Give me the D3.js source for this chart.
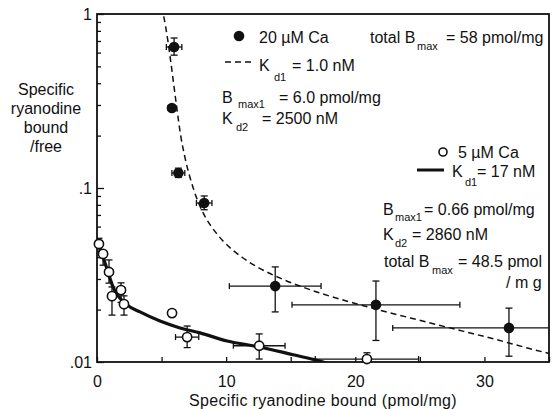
<!DOCTYPE html>
<html><head><meta charset="utf-8">
<script src="https://cdn.jsdelivr.net/npm/d3@7"></script>
<style>
body{margin:0;background:#fff}
text{font-family:"Liberation Sans",Arial,Helvetica,sans-serif;fill:#111}
</style>
</head><body><svg id="c" width="559" height="409"></svg>
<script>
// ---- data ----
const xTickValues = [0, 5, 10, 15, 20, 25, 30, 35];
const xTickLabels = ["0", "", "10", "", "20", "", "30", ""];
const yMajorTicks = [0.01, 0.1, 1];
const yMajorLabels = [".01", ".1", "1"];
const yMinorTicks = [0.02,0.03,0.04,0.05,0.06,0.07,0.08,0.09,0.2,0.3,0.4,0.5,0.6,0.7,0.8,0.9];

// 20 µM Ca (filled)
const ca20X     = [5.97, 5.8, 6.3, 8.3, 13.8, 21.6, 31.9];
const ca20Y     = [0.646, 0.288, 0.122, 0.082, 0.0273, 0.0213, 0.0157];
const ca20XErr  = [0.6, 0.3, 0.5, 0.6, 3.55, 6.5, 9.0];
const ca20YLow  = [0.58, 0.288, 0.115, 0.075, 0.0194, 0.0133, 0.0108];
const ca20YHigh = [0.728, 0.288, 0.13, 0.09, 0.0352, 0.0292, 0.0204];

// 5 µM Ca (open)
const ca5X     = [0.15, 0.47, 0.93, 1.86, 1.16, 2.09, 5.81, 6.98, 12.56, 20.9];
const ca5Y     = [0.0477, 0.0418, 0.0329, 0.0259, 0.0239, 0.0215, 0.0191, 0.0139, 0.0124, 0.0104];
const ca5XErr  = [0.2, 0, 0.3, 0.3, 0, 0, 0, 0.9, 2.0, 4.0];
const ca5YLow  = [0.043, 0.036, 0.0284, 0.022, 0.0186, 0.0186, 0.0191, 0.0121, 0.0104, 0.0095];
const ca5YHigh = [0.0514, 0.0418, 0.0386, 0.0285, 0.027, 0.024, 0.0191, 0.0161, 0.0145, 0.0113];

// fitted curves
const fit20X = [5.0, 5.13, 5.49, 5.76, 6.15, 6.48, 6.81, 7.45, 8.30, 8.86, 9.72, 11.23, 12.46, 14.34, 17.2, 19.24, 21.75, 24.8, 28.4, 30.85, 33.4, 35.0];
const fit20Y = [1.1, 1.0, 0.7, 0.5, 0.3, 0.2, 0.15, 0.1, 0.07, 0.06, 0.05, 0.04, 0.035, 0.03, 0.025, 0.0225, 0.02, 0.0175, 0.015, 0.0135, 0.012, 0.0112];
const fit5X = [0, 0.15, 0.7, 1.24, 2.33, 3.33, 4.88, 6.43, 7.98, 10.08, 12.6, 15.2, 17.3, 18.5];
const fit5Y = [0.05, 0.047, 0.0356, 0.027, 0.0213, 0.0194, 0.0172, 0.0157, 0.0147, 0.0132, 0.0122, 0.011, 0.0101, 0.0095];

const xTitle = "Specific ryanodine bound (pmol/mg)";
const yTitle = ["Specific", "ryanodine", "bound", "/free"];

// ---- drawing ----
const svg = d3.select("#c");
const L = 97, R = 549, T = 14, B = 362;
const x = d3.scaleLinear().domain([0, 35]).range([L, R]);
const y = d3.scaleLog().domain([0.01, 1]).range([B, T]);

svg.append("defs").append("clipPath").attr("id", "clip")
  .append("rect").attr("x", L).attr("y", T).attr("width", R - L).attr("height", B - T);

// axes
const gx = svg.append("g").attr("transform", `translate(0,${B})`)
  .call(d3.axisBottom(x).tickValues(xTickValues).tickSizeInner(-5).tickSizeOuter(0)
    .tickFormat((d, i) => xTickLabels[i]));
gx.select(".domain").remove();
gx.selectAll("line").attr("stroke", "#111").attr("stroke-width", 1.3);
gx.selectAll("text").attr("font-size", 16).attr("dy", null).attr("y", 25).attr("fill", "#111");

const gy = svg.append("g").attr("transform", `translate(${L},0)`)
  .call(d3.axisLeft(y).tickValues(yMajorTicks).tickSizeInner(-7).tickSizeOuter(0)
    .tickFormat((d, i) => yMajorLabels[i]));
gy.select(".domain").remove();
gy.selectAll("line").attr("stroke", "#111").attr("stroke-width", 1.3);
gy.selectAll("text").attr("font-size", 16).attr("x", -5).attr("fill", "#111");

const gy2 = svg.append("g").attr("transform", `translate(${L},0)`)
  .call(d3.axisLeft(y).tickValues(yMinorTicks).tickSizeInner(-4).tickSizeOuter(0).tickFormat(""));
gy2.select(".domain").remove();
gy2.selectAll("line").attr("stroke", "#111").attr("stroke-width", 1.3);

// frame
svg.append("rect").attr("x", L).attr("y", T).attr("width", R - L).attr("height", B - T)
  .attr("fill", "none").attr("stroke", "#111").attr("stroke-width", 1.8);

// titles
svg.append("text").attr("x", 323).attr("y", 406).attr("text-anchor", "middle")
  .attr("font-size", 16).attr("letter-spacing", 0.35).text(xTitle);
svg.append("g").selectAll("text").data(yTitle).join("text")
  .attr("x", 46).attr("y", (d, i) => 95 + i * 19).attr("text-anchor", "middle")
  .attr("font-size", 16).text(d => d);

const plot = svg.append("g").attr("clip-path", "url(#clip)");

// fit lines
const line = d3.line().x(d => x(d[0])).y(d => y(d[1])).curve(d3.curveMonotoneX);
plot.append("path").datum(fit20X.map((v, i) => [v, fit20Y[i]]))
  .attr("d", line).attr("fill", "none").attr("stroke", "#111")
  .attr("stroke-width", 1.5).attr("stroke-dasharray", "6,4");
plot.append("path").datum(fit5X.map((v, i) => [v, fit5Y[i]]))
  .attr("d", line).attr("fill", "none").attr("stroke", "#111")
  .attr("stroke-width", 3.2);

// error bars
function errorBars(X, Y, XE, YL, YH) {
  const g = plot.append("g").attr("stroke", "#111").attr("stroke-width", 1.3);
  X.forEach((xv, i) => {
    const cx = x(xv), cy = y(Y[i]);
    if (XE[i] > 0) {
      const x0 = x(xv - XE[i]), x1 = x(xv + XE[i]);
      g.append("line").attr("x1", x0).attr("x2", x1).attr("y1", cy).attr("y2", cy);
      g.append("line").attr("x1", x0).attr("x2", x0).attr("y1", cy - 3).attr("y2", cy + 3);
      g.append("line").attr("x1", x1).attr("x2", x1).attr("y1", cy - 3).attr("y2", cy + 3);
    }
    if (YH[i] > Y[i] || YL[i] < Y[i]) {
      const y0 = y(YL[i]), y1 = y(YH[i]);
      g.append("line").attr("x1", cx).attr("x2", cx).attr("y1", y0).attr("y2", y1);
      if (YL[i] < Y[i]) g.append("line").attr("x1", cx - 3.5).attr("x2", cx + 3.5).attr("y1", y0).attr("y2", y0);
      if (YH[i] > Y[i]) g.append("line").attr("x1", cx - 3.5).attr("x2", cx + 3.5).attr("y1", y1).attr("y2", y1);
    }
  });
}
errorBars(ca20X, ca20Y, ca20XErr, ca20YLow, ca20YHigh);
errorBars(ca5X, ca5Y, ca5XErr, ca5YLow, ca5YHigh);

// markers
svg.append("g").selectAll("circle").data(ca5X).join("circle")
  .attr("cx", d => x(d)).attr("cy", (d, i) => y(ca5Y[i])).attr("r", 4.6)
  .attr("fill", "#fff").attr("stroke", "#111").attr("stroke-width", 1.6);
svg.append("g").selectAll("circle").data(ca20X).join("circle")
  .attr("cx", d => x(d)).attr("cy", (d, i) => y(ca20Y[i])).attr("r", 5.3)
  .attr("fill", "#111");

// annotations
function txt(xp, yp, s, size) {
  return svg.append("text").attr("x", xp).attr("y", yp).attr("font-size", size || 16).text(s);
}
svg.append("circle").attr("cx", 239).attr("cy", 36).attr("r", 5.3).attr("fill", "#111");
txt(259, 43, "20 µM Ca");
txt(370, 43, "total B"); txt(417, 50, "max", 11); txt(446, 43, "= 58 pmol/mg");
svg.append("line").attr("x1", 225).attr("x2", 253).attr("y1", 62).attr("y2", 62)
  .attr("stroke", "#111").attr("stroke-width", 1.5).attr("stroke-dasharray", "6,4");
txt(259, 71, "K"); txt(274, 81, "d1", 11); txt(292, 71, "= 1.0 nM");
txt(222, 103, "B"); txt(238, 108, "max1", 11); txt(279, 103, "= 6.0 pmol/mg");
txt(222, 124, "K"); txt(236, 131, "d2", 11); txt(262, 124, "= 2500 nM");

svg.append("circle").attr("cx", 443).attr("cy", 152).attr("r", 4).attr("fill", "#fff")
  .attr("stroke", "#111").attr("stroke-width", 1.6);
txt(458, 158, "5 µM Ca");
svg.append("line").attr("x1", 417).attr("x2", 444).attr("y1", 170).attr("y2", 170)
  .attr("stroke", "#111").attr("stroke-width", 3);
txt(452, 177, "K"); txt(465, 186, "d1", 11); txt(477, 177, "= 17 nM");
txt(383, 215, "B"); txt(395, 221, "max1", 11); txt(424, 215, "= 0.66 pmol/mg");
txt(383, 240, "K"); txt(395, 247, "d2", 11); txt(412, 240, "= 2860 nM");
txt(384, 267, "total B"); txt(432, 274, "max", 11); txt(458, 267, "= 48.5 pmol");
txt(506, 288, "/ m g");
</script>
</body></html>
